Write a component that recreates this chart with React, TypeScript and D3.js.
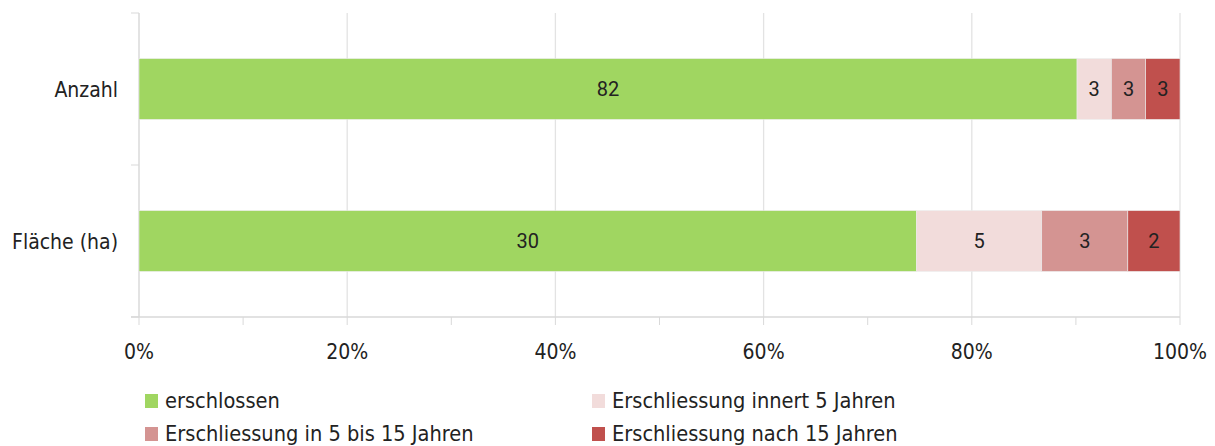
import React from "react";
import * as d3 from "d3";

const categories = ["Anzahl", "Fläche (ha)"];
const seriesNames = [
  "erschlossen",
  "Erschliessung innert 5 Jahren",
  "Erschliessung in 5 bis 15 Jahren",
  "Erschliessung nach 15 Jahren",
];
const erschlossen = [82, 29.8];
const innert5 = [3, 4.8];
const in5bis15 = [3, 3.3];
const nach15 = [3, 2.0];
const xTicks = [0, 0.2, 0.4, 0.6, 0.8, 1.0];
const colors = ["#a0d661", "#f2dcdb", "#d49492", "#c0504d"];

export default function App() {
  const W = 1215, H = 446;
  const left = 139, right = 1180, top = 13, bottom = 317;
  const x = d3.scaleLinear().domain([0, 1]).range([left, right]);
  const y = d3.scaleBand().domain(categories).range([top, bottom]).paddingInner(0.6).paddingOuter(0.3);
  const band = d3.scaleBand().domain(categories).range([top, bottom]);
  const series = [erschlossen, innert5, in5bis15, nach15];
  const rows = categories.map((c, i) => {
    const vals = series.map((s) => s[i]);
    const total = d3.sum(vals);
    let acc = 0;
    return vals.map((v, k) => {
      const x0 = acc / total;
      acc += v;
      return { c, k, v, x0, x1: acc / total };
    });
  });
  const minor = d3.range(0, 1.0001, 0.1);
  const font = "'DejaVu Sans Condensed', 'Open Sans', sans-serif";
  const legendPos = [
    [145, 401], [592, 401], [145, 434], [592, 434],
  ];
  return (
    <svg width={W} height={H} style={{ position: "absolute", left: 0, top: 0 }}>
      <rect width={W} height={H} fill="#fff" />
      {xTicks.map((t) => (
        <line key={t} x1={x(t)} x2={x(t)} y1={top} y2={bottom} stroke="#e3e3e3" strokeWidth={1.3} />
      ))}
      <line x1={left} x2={left} y1={top} y2={bottom} stroke="#d9d9d9" />
      <line x1={left - 8} x2={right} y1={bottom} y2={bottom} stroke="#d9d9d9" strokeWidth={1.3} />
      {[top, band(categories[1])!, bottom].map((yy, i) => (
        <line key={i} x1={left - 8} x2={left} y1={yy} y2={yy} stroke="#d9d9d9" />
      ))}
      {minor.map((t, i) => (
        <line key={i} x1={x(t)} x2={x(t)} y1={bottom} y2={bottom + 8} stroke="#d9d9d9" />
      ))}
      {rows.map((r) =>
        r.map((s) => (
          <g key={s.c + s.k}>
            <rect x={x(s.x0)} y={y(s.c)} width={x(s.x1) - x(s.x0)} height={y.bandwidth()} fill={colors[s.k]} stroke="#ececec" strokeWidth={0.6} />
            <text x={(x(s.x0) + x(s.x1)) / 2} y={y(s.c)! + y.bandwidth() / 2} dy="0.36em" textAnchor="middle" fontFamily="Roboto, sans-serif" fontSize={20} fill="#222">
              {Math.round(s.v)}
            </text>
          </g>
        ))
      )}
      {categories.map((c) => (
        <text key={c} x={left - 21} y={y(c)! + y.bandwidth() / 2} dy="0.36em" textAnchor="end" fontFamily={font} fontSize={21} fill="#222">
          {c}
        </text>
      ))}
      {xTicks.map((t) => (
        <text key={t} x={x(t)} y={351} dy="0.36em" textAnchor="middle" fontFamily={font} fontSize={21} fill="#222">
          {d3.format(".0%")(t)}
        </text>
      ))}
      {seriesNames.map((n, i) => (
        <g key={n}>
          <rect x={legendPos[i][0]} y={legendPos[i][1] - 7} width={13} height={14} fill={colors[i]} />
          <text x={legendPos[i][0] + 20} y={legendPos[i][1] - 0.5} dy="0.36em" fontFamily={font} fontSize={21.6} fill="#222">
            {n}
          </text>
        </g>
      ))}
    </svg>
  );
}
